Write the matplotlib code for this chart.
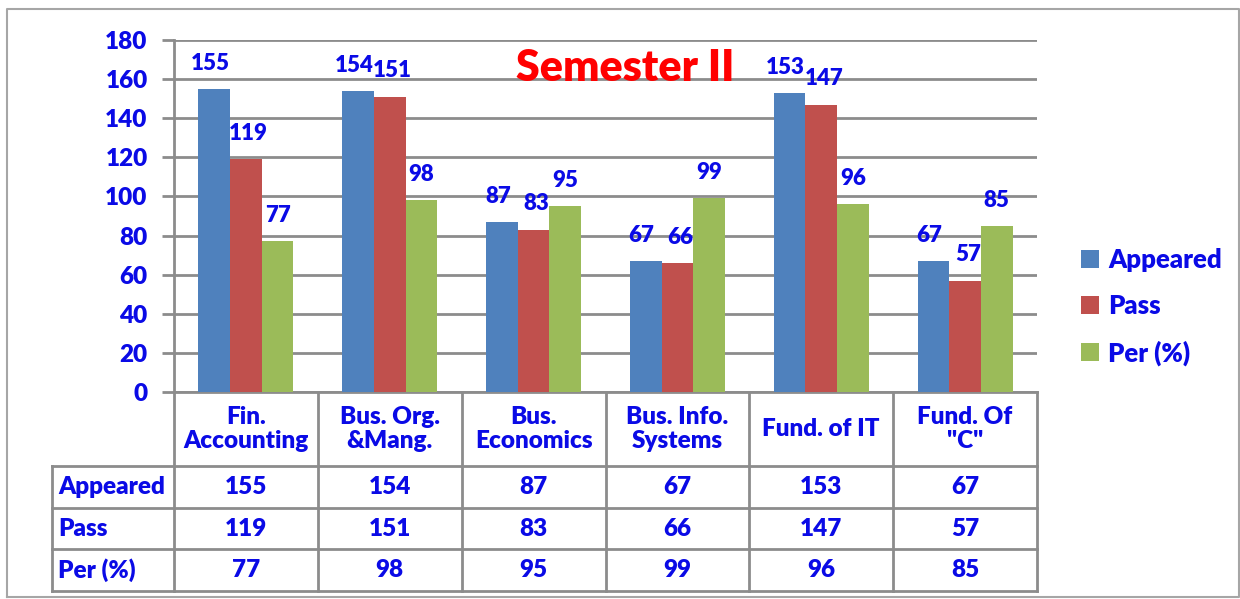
import matplotlib.pyplot as plt
import numpy as np

subjects = ["Fin.\nAccounting", "Bus. Org.\n&Mang.", "Bus.\nEconomics",
            "Bus. Info.\nSystems", "Fund. of IT", "Fund. Of\n\"C\""]
appeared = [155, 154, 87, 67, 153, 67]
passed = [119, 151, 83, 66, 147, 57]
percent = [77, 98, 95, 99, 96, 85]
series_names = ["Appeared", "Pass", "Per (%)"]
yticks = [0, 20, 40, 60, 80, 100, 120, 140, 160, 180]

plt.rcParams['font.family'] = ['Lato', 'DejaVu Sans']
plt.rcParams['font.weight'] = 'heavy'

W, H = 1240, 599
txt = '#0a0ae6'
grey = '#8c8c8c'
colors = ['#4f81bd', '#c0504d', '#9bbb59']
fw = 'heavy'
fs = 17.5

fig = plt.figure(figsize=(W / 100, H / 100), dpi=100)

# chart area in pixels
L, R, T, B = 174, 1037, 40, 392
ax = fig.add_axes([L / W, 1 - B / H, (R - L) / W, (B - T) / H])

x = np.arange(len(subjects))
bw = 0.22
label_dx = [-3, 2, 0]  # small nudge so neighbouring labels don't collide
for i, vals in enumerate([appeared, passed, percent]):
    bars = ax.bar(x + (i - 1) * bw, vals, bw, color=colors[i], label=series_names[i], zorder=3)
    for b, v in zip(bars, vals):
        ax.annotate(str(v), (b.get_x() + b.get_width() / 2, v), xytext=(label_dx[i], 11),
                    textcoords='offset points', ha='center', va='bottom',
                    fontsize=16, fontweight=fw, color=txt, zorder=4)

ax.set_xlim(-0.5, len(subjects) - 0.5)
ax.set_ylim(0, 180)
ax.set_yticks(yticks)
ax.set_xticks([])
ax.yaxis.grid(True, color=grey, linewidth=2, zorder=0)
ax.tick_params(axis='y', length=9, width=2, color=grey, pad=10, labelsize=fs, labelcolor=txt)
for lab in ax.get_yticklabels():
    lab.set_fontweight(fw)
for s in ['top', 'right']:
    ax.spines[s].set_visible(False)
ax.spines['left'].set_color(grey)
ax.spines['left'].set_linewidth(2)
ax.spines['bottom'].set_color(grey)
ax.spines['bottom'].set_linewidth(2)

ax.legend(loc='center left', bbox_to_anchor=(1058 / W, 1 - 307 / H), bbox_transform=fig.transFigure,
          frameon=False, prop={'size': 18.5, 'weight': fw}, labelcolor=txt, handlelength=0.7,
          handleheight=0.7, handletextpad=0.35, labelspacing=0.85)

fig.text(625 / W, 1 - 68 / H, "Semester II", color='#ff0000', fontsize=31,
         fontweight=fw, ha='center', va='center')

# overlay in pixel coordinates for the data table and frame
ov = fig.add_axes([0, 0, 1, 1], zorder=-1)
ov.set_xlim(0, W)
ov.set_ylim(H, 0)
ov.axis('off')

ov.plot([7, 7, W - 1, W - 1, 7], [597, 9, 9, 597, 597], color='#a6a6a6', lw=1.5)

TL = 52
rows_y = [B, 466, 508, 549, 591]
cw = (R - L) / len(subjects)
for k in range(len(subjects) + 1):
    ov.plot([L + k * cw] * 2, [B, rows_y[-1]], color=grey, lw=2)
ov.plot([TL, TL], [rows_y[1], rows_y[-1]], color=grey, lw=2)
for yy in rows_y[1:]:
    ov.plot([TL, R], [yy, yy], color=grey, lw=2)

for k, name in enumerate(subjects):
    cx = L + (k + 0.5) * cw
    ov.text(cx, (rows_y[0] + rows_y[1]) / 2, name, ha='center', va='center',
            fontsize=fs, fontweight=fw, color=txt, linespacing=1.1)
    for r, vals in enumerate([appeared, passed, percent]):
        ov.text(cx, (rows_y[r + 1] + rows_y[r + 2]) / 2, str(vals[k]), ha='center',
                va='center', fontsize=fs, fontweight=fw, color=txt)

for r, name in enumerate(series_names):
    ov.text(TL + 6, (rows_y[r + 1] + rows_y[r + 2]) / 2, name, ha='left',
            va='center', fontsize=fs, fontweight=fw, color=txt)

fig.savefig("out.png", dpi=100)
